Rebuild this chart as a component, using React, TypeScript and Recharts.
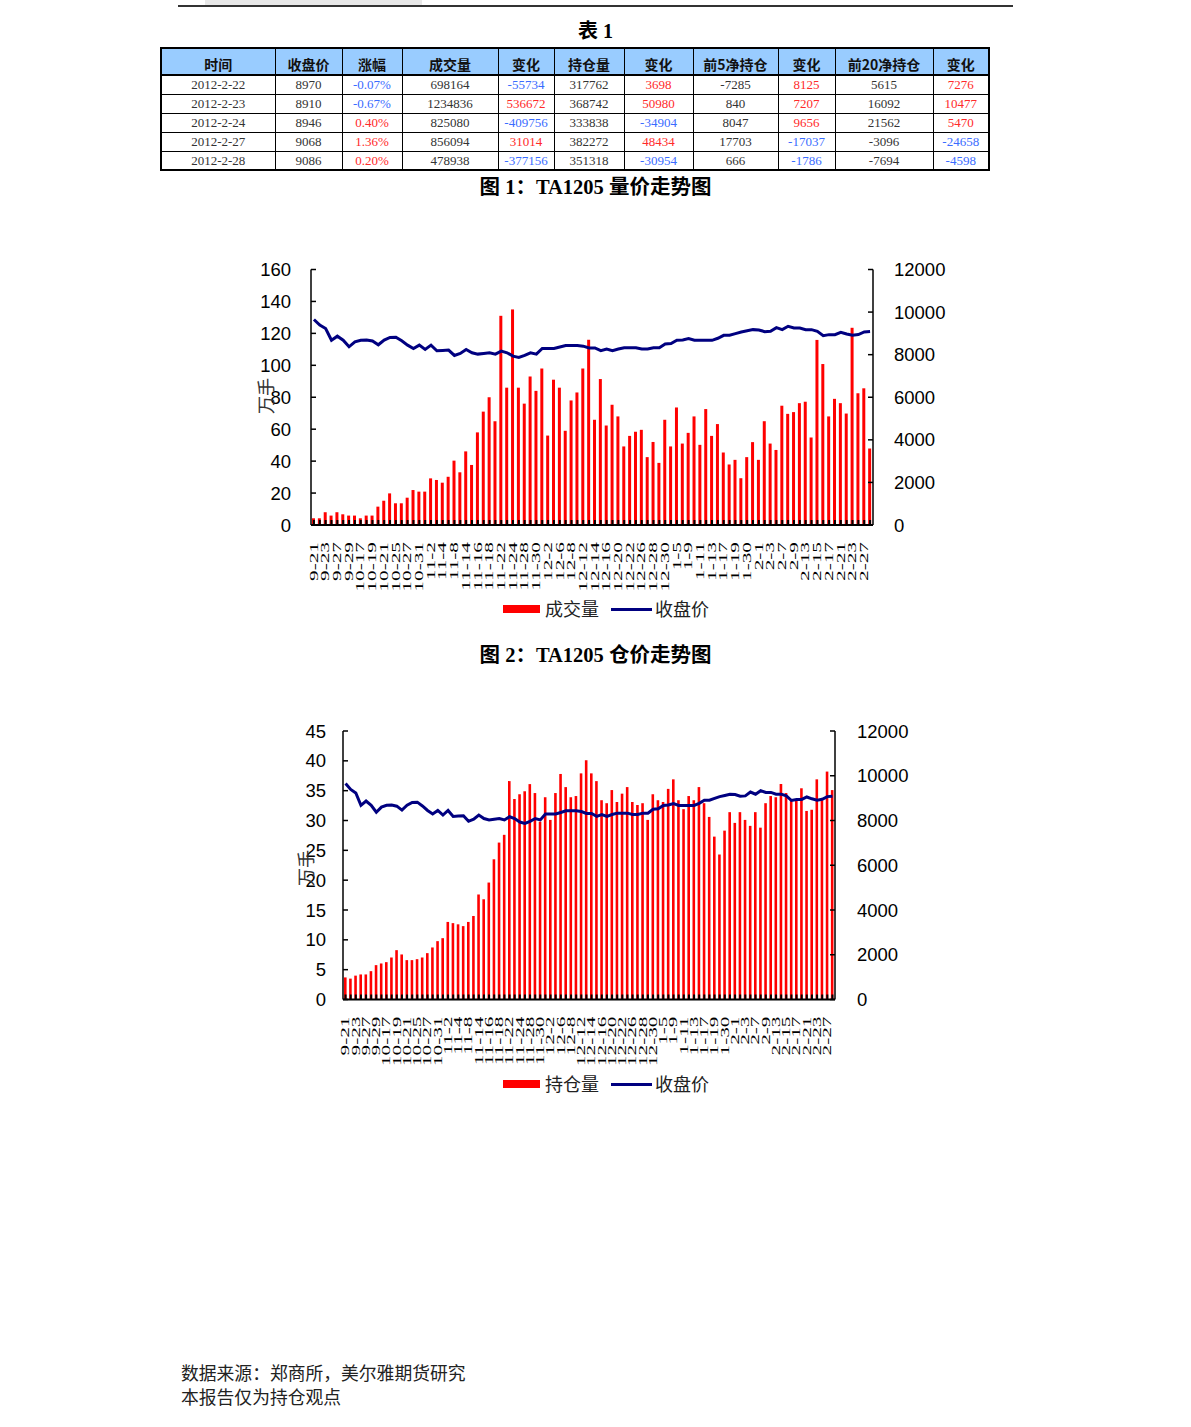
import React from "react";
import { Bar, ComposedChart, Line, XAxis, YAxis } from "recharts";

// trading days shown on both charts (2011-09-21 .. 2012-02-28)
const dates = [
  "9-21", "9-22", "9-23", "9-26", "9-27", "9-28", "9-29", "9-30",
  "10-17", "10-18", "10-19", "10-20", "10-21", "10-24", "10-25", "10-26", "10-27", "10-28", "10-31",
  "11-1", "11-2", "11-3", "11-4", "11-7", "11-8", "11-9", "11-14", "11-15", "11-16", "11-17", "11-18",
  "11-21", "11-22", "11-23", "11-24", "11-25", "11-28", "11-29", "11-30",
  "12-1", "12-2", "12-5", "12-6", "12-7", "12-8", "12-9", "12-12", "12-13", "12-14", "12-15", "12-16",
  "12-19", "12-20", "12-21", "12-22", "12-23", "12-26", "12-27", "12-28", "12-29", "12-30",
  "1-4", "1-5", "1-6", "1-9", "1-10", "1-11", "1-12", "1-13", "1-16", "1-17", "1-18", "1-19", "1-20",
  "1-30", "1-31",
  "2-1", "2-2", "2-3", "2-6", "2-7", "2-8", "2-9", "2-10", "2-13", "2-14", "2-15", "2-16", "2-17",
  "2-20", "2-21", "2-22", "2-23", "2-24", "2-27", "2-28",
];

// 成交量, 万手
const volume = [
  4.2, 4.2, 8, 5.9, 8, 6.7, 5.9, 5.9, 4.2, 5.9, 5.9, 11.5, 15.2, 19.8, 13.6, 13.6,
  17.1, 21.9, 20.9, 20.9, 29.2, 28.2, 26.5, 30.2, 40.3, 33, 46.1, 37.6, 58, 71, 80, 65,
  131, 86, 135, 86, 76, 93, 84, 98, 56, 91, 86, 59, 78, 83, 98, 116,
  65.9, 91.4, 62.3, 75.3, 68, 49.2, 55.8, 58.4, 59.6, 42.5, 52, 38.9, 65.9, 49.2, 73.6, 51,
  57.7, 68, 50.2, 72.6, 55.8, 63.2, 45.4, 37.9, 40.8, 29.3, 42.5, 51.9, 40.8, 65, 51, 47,
  74.7, 69.6, 70.7, 76.3, 77.2, 54.8, 115.9, 100.8, 68, 79, 76.3, 69.8, 123.5, 82.5, 85.6, 47.9,
];

// 持仓量, 万手
const openInterest = [
  3.7, 3.5, 4.0, 4.2, 4.2, 4.75, 5.76, 6.04, 6.26, 7.04, 8.27, 7.55, 6.6, 6.6, 6.76, 7.04,
  7.77, 8.72, 9.78, 10.28, 13.0, 12.8, 12.6, 12.3, 13.0, 14.0, 17.6, 16.8, 19.6, 23.5, 26.3, 27.6,
  36.6, 33.6, 34.4, 34.9, 36.1, 34.6, 29.8, 33.9, 30.1, 34.6, 37.8, 35.6, 33.9, 34.1, 37.9, 40.1,
  37.9, 36.6, 33.4, 32.9, 35.1, 33.1, 34.5, 35.6, 33.1, 32.6, 32.9, 30.1, 34.4, 33.4, 33.1, 35.3,
  36.9, 33.4, 31.9, 34.1, 33.4, 35.6, 32.9, 30.6, 27.3, 24.3, 28.3, 31.4, 29.6, 31.4, 30.1, 29.1,
  31.4, 28.8, 32.9, 34.1, 33.9, 36.1, 34.6, 33.4, 33.4, 35.4, 31.6, 31.8, 36.9, 33.4, 38.2, 35.1,
];

// 收盘价
const close = [
  9650, 9390, 9230, 8680, 8870, 8680, 8370, 8600, 8680, 8690, 8640, 8464, 8683, 8808, 8820, 8650,
  8448, 8292, 8448, 8245, 8448, 8183, 8200, 8214, 7963, 8057, 8245, 8088, 8026, 8060, 8088, 8026,
  8167, 8088, 7932, 7870, 7963, 8088, 8026, 8292, 8292, 8292, 8360, 8433, 8433, 8433, 8400, 8314,
  8314, 8188, 8267, 8188, 8267, 8329, 8329, 8329, 8267, 8267, 8329, 8329, 8502, 8520, 8675, 8690,
  8753, 8675, 8675, 8675, 8675, 8769, 8910, 8910, 8990, 9067, 9120, 9176, 9160, 9082, 9100, 9271,
  9176, 9333, 9255, 9255, 9176, 9176, 9098, 8894, 8941, 8941, 9051, 8970, 8910, 8946, 9068, 9086,
];

const volTicks = [0, 20, 40, 60, 80, 100, 120, 140, 160];
const oiTicks = [0, 5, 10, 15, 20, 25, 30, 35, 40, 45];
const priceTicks = [0, 2000, 4000, 6000, 8000, 10000, 12000];

// 表1
const tableHead = ["时间", "收盘价", "涨幅", "成交量", "变化", "持仓量", "变化", "前5净持仓", "变化", "前20净持仓", "变化"];
const tableRows = [
  ["2012-2-22", "8970", "-0.07%", "698164", "-55734", "317762", "3698", "-7285", "8125", "5615", "7276"],
  ["2012-2-23", "8910", "-0.67%", "1234836", "536672", "368742", "50980", "840", "7207", "16092", "10477"],
  ["2012-2-24", "8946", "0.40%", "825080", "-409756", "333838", "-34904", "8047", "9656", "21562", "5470"],
  ["2012-2-27", "9068", "1.36%", "856094", "31014", "382272", "48434", "17703", "-17037", "-3096", "-24658"],
  ["2012-2-28", "9086", "0.20%", "478938", "-377156", "351318", "-30954", "666", "-1786", "-7694", "-4598"],
];
const colWidths = [114, 67, 60, 96, 56, 70, 69, 85, 57, 98, 56];
const coloredCols = [2, 4, 6, 8, 10];

const volData = dates.map((d, i) => ({ date: d, v: volume[i], close: close[i] }));
const oiData = dates.map((d, i) => ({ date: d, v: openInterest[i], close: close[i] }));

const SERIF = "'Liberation Serif', 'Noto Sans CJK SC', serif";
const SANS = "'Liberation Sans', Arial, sans-serif";
const CJK = "'Noto Sans CJK SC', sans-serif";

function DateTick(props: any) {
  const { x, y, payload, index } = props;
  return (
    <g>
      <line x1={x} x2={x} y1={y} y2={y - 5} stroke="#000" strokeWidth={2} />
      {index % 2 === 0 && (
        <text
          transform={`translate(${x},${y + 17}) rotate(-90) scale(1.85,1)`}
          textAnchor="end"
          dominantBaseline="central"
          fontSize={11.5}
          fontFamily={SERIF}
          fill="#000"
        >
          {payload.value}
        </text>
      )}
    </g>
  );
}

const yTick = (side: "left" | "right", gap: number) => (props: any) => {
  const { x, y, payload } = props;
  const dir = side === "left" ? 1 : -1;
  return (
    <g>
      <line x1={x} x2={x + dir * 5} y1={y} y2={y} stroke="#000" strokeWidth={1.5} />
      <text
        x={side === "left" ? x - gap : x + gap}
        y={y}
        textAnchor={side === "left" ? "end" : "start"}
        dominantBaseline="central"
        fontSize={18.5}
        fontFamily={SANS}
        fill="#000"
      >
        {payload.value}
      </text>
    </g>
  );
};

function PriceVolChart(props: {
  data: any[];
  width: number;
  height: number;
  top: number;
  leftW: number;
  rightW: number;
  leftMax: number;
  leftTicks: number[];
  leftGap: number;
  rightGap: number;
  barSize: number;
}) {
  const { data, width, height, top, leftW, rightW, leftMax, leftTicks, leftGap, rightGap, barSize } = props;
  return (
    <ComposedChart
      width={width}
      height={height}
      data={data}
      margin={{ top, right: 0, bottom: 10, left: 0 }}
      barCategoryGap={0}
    >
      <XAxis
        dataKey="date"
        interval={0}
        height={100}
        tickSize={0}
        tickMargin={0}
        tickLine={false}
        axisLine={{ stroke: "#000", strokeWidth: 2 }}
        tick={DateTick}
      />
      <YAxis
        yAxisId="left"
        orientation="left"
        width={leftW}
        domain={[0, leftMax]}
        ticks={leftTicks}
        interval={0}
        tickSize={0}
        tickMargin={0}
        tickLine={false}
        axisLine={{ stroke: "#000", strokeWidth: 1.5 }}
        tick={yTick("left", leftGap)}
      />
      <YAxis
        yAxisId="right"
        orientation="right"
        width={rightW}
        domain={[0, 12000]}
        ticks={priceTicks}
        interval={0}
        tickSize={0}
        tickMargin={0}
        tickLine={false}
        axisLine={{ stroke: "#000", strokeWidth: 1.5 }}
        tick={yTick("right", rightGap)}
      />
      <Bar yAxisId="left" dataKey="v" fill="#ff0000" barSize={barSize} isAnimationActive={false} />
      <Line
        yAxisId="right"
        dataKey="close"
        type="linear"
        stroke="#000080"
        strokeWidth={3}
        dot={false}
        isAnimationActive={false}
      />
    </ComposedChart>
  );
}

function LegendRow({ top, label }: { top: number; label: string }) {
  return (
    <div style={{ position: "absolute", left: 503, top, height: 20, fontFamily: CJK, fontSize: 18, color: "#222" }}>
      <div style={{ position: "absolute", left: 0, top: 6, width: 37, height: 8, background: "#ff0000" }} />
      <div style={{ position: "absolute", left: 42, top: -2, whiteSpace: "nowrap", lineHeight: "22px" }}>{label}</div>
      <div style={{ position: "absolute", left: 108, top: 9, width: 41, height: 3, background: "#000080" }} />
      <div style={{ position: "absolute", left: 152, top: -2, whiteSpace: "nowrap", lineHeight: "22px" }}>收盘价</div>
    </div>
  );
}

function cellColor(col: number, text: string) {
  if (!coloredCols.includes(col)) return "#333";
  return text.startsWith("-") ? "#3a6cff" : "#ff2a2a";
}

export default function App() {
  return (
    <div style={{ position: "relative", width: 1191, height: 1427, background: "#fff", overflow: "hidden" }}>
      <style>{`body{margin:0}`}</style>

      {/* page header remnant */}
      <div style={{ position: "absolute", left: 205, top: 0, width: 217, height: 5, background: "#e8e8e8" }} />
      <div style={{ position: "absolute", left: 178, top: 5, width: 835, height: 2, background: "#333" }} />

      <div style={{ position: "absolute", left: 0, width: 1191, top: 18, textAlign: "center", fontFamily: SERIF, fontWeight: "bold", fontSize: 20, lineHeight: "26px" }}>
        表 1
      </div>

      <table
        style={{
          position: "absolute",
          left: 160,
          top: 47,
          borderCollapse: "collapse",
          tableLayout: "fixed",
          width: 828,
          border: "2px solid #000",
        }}
      >
        <colgroup>
          {colWidths.map((w, i) => (
            <col key={i} style={{ width: w }} />
          ))}
        </colgroup>
        <thead>
          <tr style={{ height: 25 }}>
            {tableHead.map((h, i) => (
              <th
                key={i}
                style={{
                  background: "#99ccff",
                  border: "1px solid #000",
                  borderBottom: "2px solid #000",
                  fontFamily: CJK,
                  fontWeight: "bold",
                  fontSize: 14,
                  padding: "5px 0 0 0",
                  color: "#111",
                  whiteSpace: "nowrap",
                }}
              >
                {h}
              </th>
            ))}
          </tr>
        </thead>
        <tbody>
          {tableRows.map((r, ri) => (
            <tr key={ri} style={{ height: 19 }}>
              {r.map((c, ci) => (
                <td
                  key={ci}
                  style={{
                    border: "1px solid #000",
                    textAlign: "center",
                    fontFamily: SERIF,
                    fontSize: 13,
                    padding: 0,
                    lineHeight: "17px",
                    color: cellColor(ci, c),
                    whiteSpace: "nowrap",
                  }}
                >
                  {c}
                </td>
              ))}
            </tr>
          ))}
        </tbody>
      </table>

      <div style={{ position: "absolute", left: 0, width: 1191, top: 174, textAlign: "center", fontFamily: SERIF, fontWeight: "bold", fontSize: 20.5, lineHeight: "26px" }}>
        图 1：TA1205 量价走势图
      </div>

      <div style={{ position: "absolute", left: 240, top: 255 }}>
        <PriceVolChart
          data={volData}
          width={720}
          height={380}
          top={14.5}
          leftW={71}
          rightW={87}
          leftMax={160}
          leftTicks={volTicks}
          leftGap={20}
          rightGap={21}
          barSize={3}
        />
      </div>
      <div style={{ position: "absolute", left: 247, top: 384, width: 36, height: 24, transform: "rotate(-90deg)", fontFamily: CJK, fontSize: 18, color: "#333", lineHeight: "24px", textAlign: "center" }}>
        万手
      </div>
      <LegendRow top={599} label="成交量" />

      <div style={{ position: "absolute", left: 0, width: 1191, top: 642, textAlign: "center", fontFamily: SERIF, fontWeight: "bold", fontSize: 20.5, lineHeight: "26px" }}>
        图 2：TA1205 仓价走势图
      </div>

      <div style={{ position: "absolute", left: 270, top: 715 }}>
        <PriceVolChart
          data={oiData}
          width={660}
          height={394.5}
          top={16}
          leftW={73}
          rightW={95}
          leftMax={45}
          leftTicks={oiTicks}
          leftGap={17}
          rightGap={22}
          barSize={2.6}
        />
      </div>
      <div style={{ position: "absolute", left: 287, top: 856, width: 36, height: 24, transform: "rotate(-90deg)", fontFamily: CJK, fontSize: 18, color: "#333", lineHeight: "24px", textAlign: "center" }}>
        万手
      </div>
      <LegendRow top={1074} label="持仓量" />

      <div style={{ position: "absolute", left: 181, top: 1360, fontFamily: CJK, fontSize: 17.8, lineHeight: "24px", color: "#222" }}>
        <div>数据来源：郑商所，美尔雅期货研究</div>
        <div>本报告仅为持仓观点</div>
      </div>
    </div>
  );
}
